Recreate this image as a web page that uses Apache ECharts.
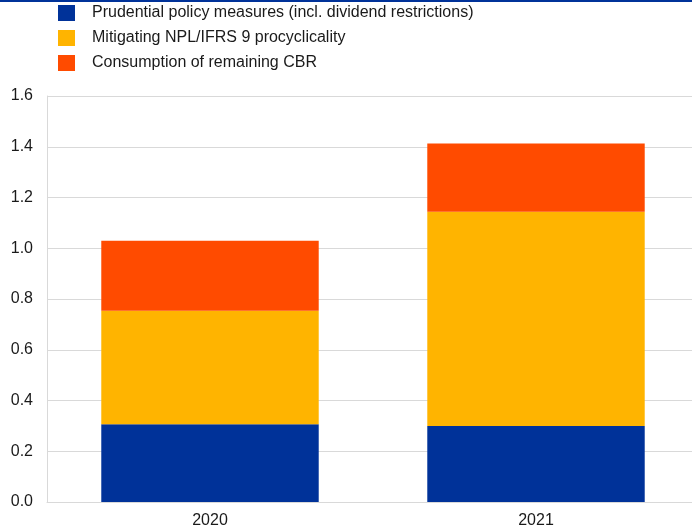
<!DOCTYPE html>
<html><head><meta charset="utf-8">
<script src="https://cdn.jsdelivr.net/npm/echarts@6/dist/echarts.min.js"></script>
<style>html,body{margin:0;padding:0;background:#fff;overflow:hidden}#c{width:699px;height:530px}</style>
</head><body><div id="c"></div>
<script>
const categories = ['2020', '2021'];
const prudential = [0.306, 0.300];
const mitigating = [0.448, 0.844];
const consumption = [0.276, 0.269];
const seriesNames = ['Prudential policy measures (incl. dividend restrictions)', 'Mitigating NPL/IFRS 9 procyclicality', 'Consumption of remaining CBR'];
const colors = ['#003299', '#FFB400', '#FF4B00'];

const chart = echarts.init(document.getElementById('c'));
const mk = (name, data, color) => ({
  name, type: 'bar', stack: 'a', data, barWidth: '66.7%',
  itemStyle: { color }, emphasis: { disabled: true }
});
chart.setOption({
  animation: false,
  textStyle: { fontFamily: 'Liberation Sans, Arial, sans-serif' },
  graphic: [{ type: 'rect', shape: { x: 0, y: 0, width: 699, height: 2 }, style: { fill: '#003299' } }],
  legend: {
    orient: 'vertical', left: 58, top: 5, padding: 0, itemWidth: 17, itemHeight: 16, itemGap: 9,
    icon: 'rect',
    textStyle: { fontSize: 16, color: '#1a1a1a', padding: [0, 0, 0, 12] },
    data: seriesNames
  },
  grid: { left: 47, top: 96, bottom: 28, right: 0 },
  xAxis: {
    type: 'category', data: categories,
    axisLine: { lineStyle: { color: '#d9d9d9' } }, axisTick: { show: false },
    axisLabel: { fontSize: 16, color: '#1a1a1a', margin: 11 }
  },
  yAxis: {
    type: 'value', min: 0, max: 1.6, interval: 0.2,
    axisLine: { show: true, lineStyle: { color: '#d9d9d9' } },
    splitLine: { lineStyle: { color: '#d9d9d9' } },
    axisLabel: { fontSize: 16, color: '#1a1a1a', margin: 14, formatter: v => v.toFixed(1) }
  },
  series: [
    mk(seriesNames[0], prudential, colors[0]),
    mk(seriesNames[1], mitigating, colors[1]),
    mk(seriesNames[2], consumption, colors[2])
  ]
});
</script></body></html>
